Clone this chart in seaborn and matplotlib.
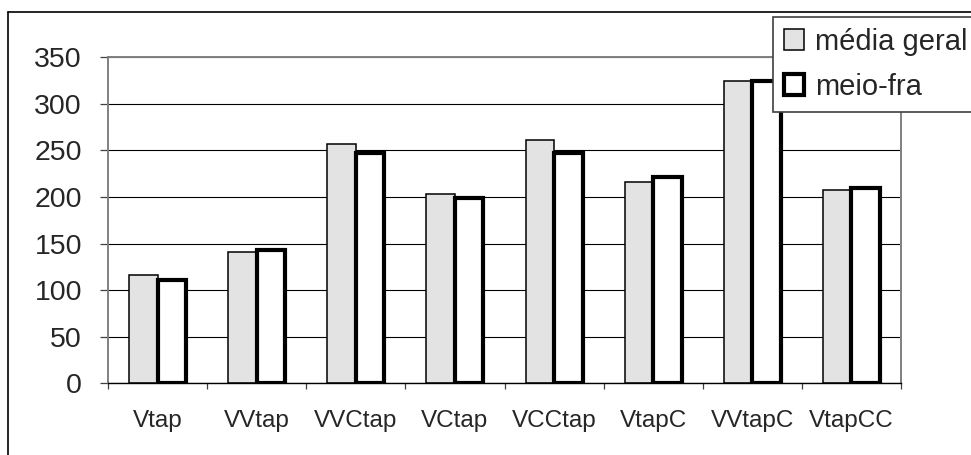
import matplotlib
matplotlib.use("Agg")
import matplotlib.pyplot as plt
from matplotlib.patches import Patch
from matplotlib.lines import Line2D
import pandas as pd
import seaborn as sns

# Data
categorias = ["Vtap", "VVtap", "VVCtap", "VCtap", "VCCtap", "VtapC", "VVtapC", "VtapCC"]
media_geral = [116, 141, 257, 203, 261, 216, 325, 207]
meio_fra = [111, 143, 247, 199, 247, 221, 325, 210]
series = ["média geral", "meio-fra"]
y_ticks = [0, 50, 100, 150, 200, 250, 300, 350]

df = pd.DataFrame({
    "categoria": categorias * 2,
    "valor": media_geral + meio_fra,
    "serie": [series[0]] * len(categorias) + [series[1]] * len(categorias),
})

sns.set_style("white")
plt.rcParams["font.family"] = ["Liberation Sans", "DejaVu Sans"]

W, H = 971, 455
fig = plt.figure(figsize=(W / 100, H / 100), dpi=100)
ax = fig.add_axes([108 / W, (H - 383.3) / H, (901 - 108) / W, (383.3 - 57.3) / H])

gray_fill = "#e3e3e3"
sns.barplot(
    data=df, x="categoria", y="valor", hue="serie", hue_order=series,
    palette={series[0]: gray_fill, series[1]: "white"},
    width=0.575, gap=0, saturation=1, errorbar=None, legend=False,
    edgecolor="black", ax=ax,
)

for bar in ax.containers[0]:
    bar.set_linewidth(1.1)
    bar.set_zorder(2)
for bar in ax.containers[1]:
    bar.set_linewidth(3.0)
    bar.set_zorder(3)

ax.set_xlim(-0.5, len(categorias) - 0.5)
ax.set_ylim(0, 350)
ax.set_yticks(y_ticks)
ax.set_yticklabels([str(v) for v in y_ticks])
ax.set_xlabel("")
ax.set_ylabel("")

# Horizontal gridlines behind the bars
ax.yaxis.grid(True, color="black", linewidth=0.8)
ax.xaxis.grid(False)
ax.set_axisbelow(True)

# Plot-area border
for side in ["left", "right", "top"]:
    ax.spines[side].set_visible(True)
    ax.spines[side].set_color("#808080")
    ax.spines[side].set_linewidth(1.4)
ax.spines["bottom"].set_color("black")
ax.spines["bottom"].set_linewidth(1.0)

# Tick styling: y ticks outward, x ticks at category boundaries
ax.tick_params(axis="y", which="major", direction="out", length=5.8, width=0.9,
               color="#404040", pad=13, labelsize=20.5, left=True)
ax.tick_params(axis="x", which="major", length=0, pad=19.5, labelsize=17.5, bottom=True)
ax.set_xticks([i - 0.5 for i in range(len(categorias) + 1)], minor=True)
ax.tick_params(axis="x", which="minor", direction="out", length=4.3, width=0.9,
               color="#404040", bottom=True)

# Legend
handles = [
    Patch(facecolor=gray_fill, edgecolor="black", linewidth=1.1),
    Patch(facecolor="white", edgecolor="black", linewidth=3.0),
]
leg = fig.legend(
    handles, series, loc="upper left", bbox_to_anchor=(773 / W, 1 - 17 / H),
    frameon=True, fancybox=False, framealpha=1, edgecolor="#404040",
    fontsize=21, borderaxespad=0, borderpad=0.36, labelspacing=0.6,
    handlelength=0.7, handleheight=0.72, handletextpad=0.38,
)
leg.get_frame().set_linewidth(1.2)

# Outer chart frame (left and top edges)
fig.add_artist(Line2D([8 / W, 8 / W], [0, 1 - 12 / H], transform=fig.transFigure,
                      color="black", linewidth=1.2))
fig.add_artist(Line2D([8 / W, 1], [1 - 12 / H, 1 - 12 / H], transform=fig.transFigure,
                      color="black", linewidth=1.2))

fig.savefig("out.png", dpi=100)
